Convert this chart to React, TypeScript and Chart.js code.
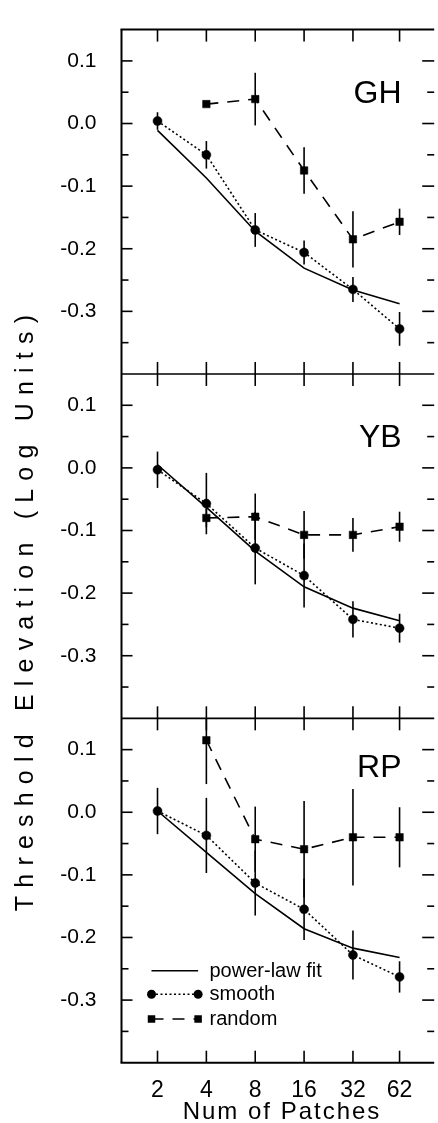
import React, { useEffect, useRef } from 'react';
import { Chart, registerables } from 'chart.js';

Chart.register(...registerables);

// ---------- data ----------
const PATCHES = [2, 4, 8, 16, 32, 62];
const PANEL_NAMES = ['GH', 'YB', 'RP'];
const PANEL_NAME_Y = [0.033, 0.034, 0.057];
const Y_TICKS = [-0.3, -0.2, -0.1, 0.0, 0.1];
const Y_MINOR = [-0.35, -0.25, -0.15, -0.05, 0.05];
const Y_MIN = -0.4;
const Y_MAX = 0.15;
const X_MIN = 1.2;
const X_MAX = 98.5;

const GH_FIT = [-0.011, -0.087, -0.172, -0.231, -0.266, -0.288];
const GH_SMOOTH = [0.004, -0.05, -0.17, -0.206, -0.265, -0.328];
const GH_SMOOTH_ERR = [0.014, 0.022, 0.027, 0.019, 0.02, 0.027];
const GH_RANDOM = [null, 0.031, 0.039, -0.075, -0.185, -0.157];
const GH_RANDOM_ERR = [0, 0, 0.042, 0.037, 0.045, 0.021];

const YB_FIT = [0.005, -0.063, -0.133, -0.19, -0.224, -0.244];
const YB_SMOOTH = [-0.003, -0.057, -0.128, -0.172, -0.242, -0.256];
const YB_SMOOTH_ERR = [0.029, 0.049, 0.058, 0.051, 0.029, 0.023];
const YB_RANDOM = [null, -0.08, -0.078, -0.107, -0.107, -0.094];
const YB_RANDOM_ERR = [0, 0.015, 0.037, 0.038, 0.027, 0.024];

const RP_FIT = [0.002, -0.064, -0.13, -0.186, -0.217, -0.232];
const RP_SMOOTH = [0.002, -0.037, -0.113, -0.155, -0.228, -0.263];
const RP_SMOOTH_ERR = [0.037, 0.06, 0.052, 0.049, 0.039, 0.025];
const RP_RANDOM = [null, 0.115, -0.043, -0.059, -0.04, -0.04];
const RP_RANDOM_ERR = [0, 0.07, 0.052, 0.077, 0.077, 0.048];

const LEGEND_LABELS = ['power-law fit', 'smooth', 'random'];
const Y_TITLE = 'Threshold Elevation (Log Units)';
const X_TITLE = 'Num of Patches';

// ---------- styling ----------
const FONT = "'Liberation Sans', Arial, Helvetica, sans-serif";
const AXIS_IDS = ['y1', 'y2', 'y3'];
const SMOOTH_DASH = [2, 2.5];
const RANDOM_DASH = [12, 9];
const LW = 1.6;

const PANELS = [
  { fit: GH_FIT, smooth: GH_SMOOTH, smoothErr: GH_SMOOTH_ERR, random: GH_RANDOM, randomErr: GH_RANDOM_ERR },
  { fit: YB_FIT, smooth: YB_SMOOTH, smoothErr: YB_SMOOTH_ERR, random: YB_RANDOM, randomErr: YB_RANDOM_ERR },
  { fit: RP_FIT, smooth: RP_SMOOTH, smoothErr: RP_SMOOTH_ERR, random: RP_RANDOM, randomErr: RP_RANDOM_ERR },
];

const toPts = (vals: (number | null)[]) => PATCHES.map((x, i) => ({ x, y: vals[i] }));

function buildDatasets() {
  const out: any[] = [];
  PANELS.forEach((p, k) => {
    const yAxisID = AXIS_IDS[k];
    out.push({
      label: LEGEND_LABELS[0], data: toPts(p.fit), yAxisID, xAxisID: 'x',
      borderColor: '#000', borderWidth: LW, pointRadius: 0, fill: false,
    });
    out.push({
      label: LEGEND_LABELS[1], data: toPts(p.smooth), yAxisID, xAxisID: 'x', errors: p.smoothErr,
      borderColor: '#000', borderWidth: LW, borderDash: SMOOTH_DASH, fill: false,
      pointStyle: 'circle', pointRadius: 4.5, pointBackgroundColor: '#000', pointBorderColor: '#000', pointBorderWidth: 0.5,
    });
    out.push({
      label: LEGEND_LABELS[2], data: toPts(p.random), yAxisID, xAxisID: 'x', errors: p.randomErr,
      borderColor: '#000', borderWidth: LW, borderDash: RANDOM_DASH, fill: false,
      pointStyle: 'rect', pointRadius: 5.3, pointBackgroundColor: '#000', pointBorderColor: '#000', pointBorderWidth: 0.5,
    });
  });
  return out;
}

function seg(ctx: any, x1: number, y1: number, x2: number, y2: number) {
  ctx.beginPath();
  ctx.moveTo(x1, y1);
  ctx.lineTo(x2, y2);
  ctx.stroke();
}

const panelPlugin = {
  id: 'panelFrame',
  afterDatasetsDraw(chart: any) {
    const { ctx, chartArea: ca, scales } = chart;
    const xs = scales.x;
    const L = ca.left;
    const R = ca.right + 2;
    ctx.save();
    ctx.strokeStyle = '#000';
    ctx.fillStyle = '#000';
    ctx.setLineDash([]);
    ctx.lineCap = 'butt';

    // error bars
    chart.data.datasets.forEach((ds: any) => {
      if (!ds.errors) return;
      const ys = scales[ds.yAxisID];
      ds.data.forEach((pt: any, j: number) => {
        const e = ds.errors[j];
        if (pt.y == null || !e) return;
        const px = xs.getPixelForValue(pt.x);
        const t = Math.max(ys.top, ys.getPixelForValue(pt.y + e));
        const b = Math.min(ys.bottom, ys.getPixelForValue(pt.y - e));
        ctx.lineWidth = LW;
        seg(ctx, px, t, px, b);
      });
    });

    // frame
    ctx.lineWidth = 2;
    seg(ctx, L, ca.top, L, ca.bottom);
    seg(ctx, L - 1, ca.top, R, ca.top);
    seg(ctx, L - 1, ca.bottom, R, ca.bottom);
    ctx.lineWidth = 1.6;
    AXIS_IDS.forEach((id, k) => {
      const ys = scales[id];
      if (k > 0) seg(ctx, L, ys.top, R, ys.top);
      ctx.lineWidth = 1.6;
      Y_TICKS.forEach((v) => {
        const py = ys.getPixelForValue(v);
        seg(ctx, L, py, L + 11, py);
        seg(ctx, R - 12, py, R, py);
      });
      Y_MINOR.forEach((v) => {
        const py = ys.getPixelForValue(v);
        seg(ctx, L, py, L + 7, py);
        seg(ctx, R - 7, py, R, py);
      });
      PATCHES.forEach((v) => {
        const px = xs.getPixelForValue(v);
        seg(ctx, px, ys.top, px, ys.top + 12);
        seg(ctx, px, ys.bottom, px, ys.bottom - 12);
      });
      ctx.font = `32px ${FONT}`;
      ctx.textAlign = 'right';
      ctx.textBaseline = 'alphabetic';
      ctx.fillText(PANEL_NAMES[k], xs.getPixelForValue(62) + 2, ys.getPixelForValue(PANEL_NAME_Y[k]));
    });

    // legend inside bottom panel
    const y3 = scales.y3;
    const rows = [y3.bottom - 92, y3.bottom - 68.4, y3.bottom - 43.7];
    const x1 = L + 30;
    const x2 = L + 76.6;
    const tx = L + 88;
    ctx.lineWidth = LW;
    ctx.setLineDash([]);
    seg(ctx, x1, rows[0], x2, rows[0]);
    ctx.setLineDash(SMOOTH_DASH);
    seg(ctx, x1, rows[1], x2, rows[1]);
    ctx.setLineDash([]);
    [x1, x2].forEach((x) => {
      ctx.beginPath();
      ctx.arc(x, rows[1], 4.5, 0, Math.PI * 2);
      ctx.fill();
    });
    ctx.setLineDash(RANDOM_DASH);
    seg(ctx, x1, rows[2], x2, rows[2]);
    ctx.setLineDash([]);
    const hs = 5.3 * Math.SQRT1_2;
    [x1, x2].forEach((x) => ctx.fillRect(x - hs, rows[2] - hs, hs * 2, hs * 2));
    ctx.font = `20px ${FONT}`;
    ctx.textAlign = 'left';
    ctx.textBaseline = 'alphabetic';
    LEGEND_LABELS.forEach((t, i) => ctx.fillText(t, tx, rows[i] + 6));
    ctx.restore();
  },
  afterDraw(chart: any) {
    const { ctx } = chart;
    ctx.save();
    ctx.fillStyle = '#000';
    ctx.font = `25px ${FONT}`;
    (ctx as any).letterSpacing = '8.2px';
    ctx.textAlign = 'center';
    ctx.textBaseline = 'alphabetic';
    ctx.translate(33, 613);
    ctx.rotate(-Math.PI / 2);
    ctx.fillText(Y_TITLE, 4, 0);
    ctx.restore();

    ctx.save();
    ctx.fillStyle = '#000';
    ctx.font = `24px ${FONT}`;
    (ctx as any).letterSpacing = '2px';
    ctx.textAlign = 'center';
    ctx.textBaseline = 'alphabetic';
    ctx.fillText(X_TITLE, 282, 1119);
    ctx.restore();
  },
};

function yScale(weight: number) {
  return {
    type: 'linear',
    position: 'left',
    stack: 'panels',
    stackWeight: 1,
    weight,
    min: Y_MIN,
    max: Y_MAX,
    grid: { display: false },
    border: { display: false },
    ticks: {
      color: '#000',
      font: { size: 21, family: FONT },
      padding: 17,
      callback: (v: any) => Number(v).toFixed(1),
    },
    afterBuildTicks: (s: any) => {
      s.ticks = Y_TICKS.map((value) => ({ value }));
    },
    afterFit: (s: any) => {
      s.width = 121.5;
    },
  };
}

export default function App() {
  const ref = useRef<HTMLCanvasElement | null>(null);
  useEffect(() => {
    if (!ref.current) return;
    const chart = new Chart(ref.current, {
      type: 'line',
      data: { datasets: buildDatasets() },
      options: {
        animation: false,
        responsive: false,
        layout: { padding: { top: 13, left: 0, right: 0, bottom: 0 } },
        elements: { line: { tension: 0 } },
        plugins: { legend: { display: false }, tooltip: { enabled: false } },
        scales: {
          x: {
            type: 'logarithmic',
            position: 'bottom',
            min: X_MIN,
            max: X_MAX,
            grid: { display: false },
            border: { display: false },
            ticks: {
              color: '#000',
              font: { size: 23, family: FONT },
              padding: 6,
              maxRotation: 0,
              autoSkip: false,
              callback: (v: any) => String(v),
            },
            afterBuildTicks: (s: any) => {
              s.ticks = PATCHES.map((value) => ({ value }));
            },
            afterFit: (s: any) => {
              s.height = 60.3;
            },
          },
          y1: yScale(3),
          y2: yScale(2),
          y3: yScale(1),
        } as any,
      },
      plugins: [panelPlugin],
    } as any);
    return () => chart.destroy();
  }, []);
  return (
    <div style={{ position: 'absolute', left: 0, top: 0, width: 438, height: 1123, overflow: 'hidden', background: '#fff' }}>
      <canvas ref={ref} width={438} height={1123} style={{ display: 'block' }} />
    </div>
  );
}
